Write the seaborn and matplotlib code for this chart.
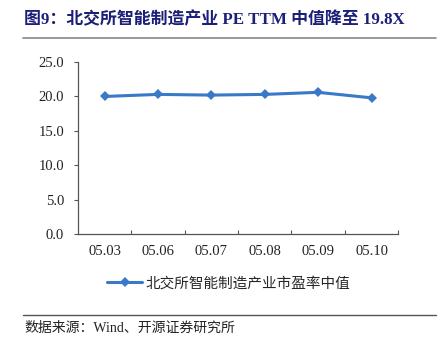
import matplotlib
matplotlib.use("Agg")
import matplotlib.pyplot as plt
from matplotlib.lines import Line2D
from matplotlib.ticker import FixedLocator
import seaborn as sns
import pandas as pd

dates = ["05.03", "05.06", "05.07", "05.08", "05.09", "05.10"]
pe_median = [20.0, 20.3, 20.2, 20.3, 20.6, 19.8]
y_ticks = [0, 5, 10, 15, 20, 25]

title = "图9：北交所智能制造产业 PE TTM 中值降至 19.8X"
series_name = "北交所智能制造产业市盈率中值"
source = "数据来源：Wind、开源证券研究所"

sns.set_theme(style="white")
plt.rcParams["font.family"] = ["Liberation Serif", "Noto Sans CJK SC", "DejaVu Sans"]
plt.rcParams["axes.unicode_minus"] = False

line_color = "#3a78c8"

df = pd.DataFrame({"x": range(len(dates)), "pe": pe_median})

fig = plt.figure(figsize=(4.4, 3.47), dpi=100)
ax = fig.add_axes([0.177, 0.326, 0.728, 0.495])

sns.lineplot(data=df, x="x", y="pe", ax=ax, color=line_color, linewidth=2.2,
             marker="D", markersize=5.5, markeredgewidth=0,
             markerfacecolor=line_color)

ax.set_xlim(-0.5, len(dates) - 0.5)
ax.set_ylim(0, 25)
ax.set_yticks(y_ticks)
ax.set_yticklabels([f"{v:.1f}" for v in y_ticks], fontsize=10.5, color="#222222")
ax.set_xticks(range(len(dates)))
ax.set_xticklabels(dates, fontsize=10.5, color="#222222")
ax.xaxis.set_minor_locator(FixedLocator([i + 0.5 for i in range(len(dates))]))
ax.tick_params(axis="x", which="major", length=0, pad=8)
ax.tick_params(axis="x", which="minor", direction="in", length=3, width=0.8,
               color="#555555", bottom=True)
ax.tick_params(axis="y", which="major", direction="out", length=3, width=0.8,
               color="#555555", left=True, pad=7)
ax.set_xlabel("")
ax.set_ylabel("")
for side in ("top", "right"):
    ax.spines[side].set_visible(False)
for side in ("left", "bottom"):
    ax.spines[side].set_color("#555555")
    ax.spines[side].set_linewidth(0.9)

handle = Line2D([], [], color=line_color, linewidth=2.2, marker="D",
                markersize=5, markeredgewidth=0)
fig.legend([handle], [series_name], loc="center", bbox_to_anchor=(0.52, 0.183),
           frameon=False, handlelength=2.4, handletextpad=0.25,
           prop={"family": ["Noto Sans CJK SC"], "size": 10.5})

fig.text(0.055, 0.942, title, fontsize=12.2, fontweight="bold", color="#1b1f77",
         ha="left", va="center",
         family=["Liberation Serif", "Noto Sans CJK SC"])
fig.add_artist(Line2D([0.052, 0.99], [0.89, 0.89], color="#888888", linewidth=1.2))
fig.add_artist(Line2D([0.052, 0.99], [0.092, 0.092], color="#555555", linewidth=1.0))
fig.text(0.055, 0.055, source, fontsize=10, color="#222222", ha="left", va="center",
         family=["Liberation Serif", "Noto Sans CJK SC"])

fig.savefig("out.png", dpi=100)
